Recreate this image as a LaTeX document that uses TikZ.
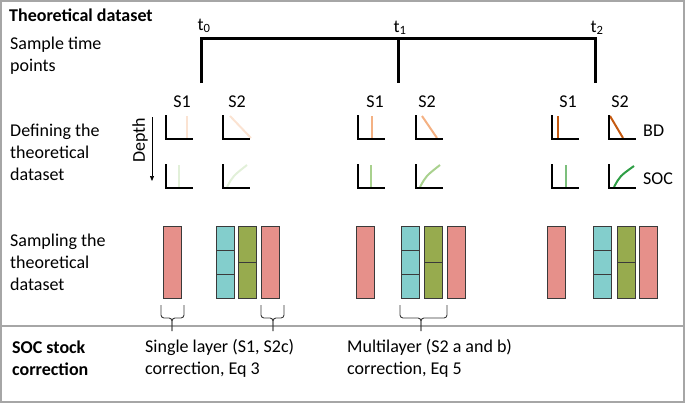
\documentclass[tikz,border=0pt]{standalone}
\usepackage{fontspec}
\setmainfont{Carlito}
\usetikzlibrary{arrows.meta}
\definecolor{framec}{HTML}{A6A6A6}
\definecolor{bdfaint}{HTML}{FBE3D2}
\definecolor{bdmid}{HTML}{F4B183}
\definecolor{bddark}{HTML}{C55A11}
\definecolor{socfaint}{HTML}{E2F0D9}
\definecolor{socmid}{HTML}{A9D18E}
\definecolor{socmidb}{HTML}{7CBF7C}
\definecolor{socdark}{HTML}{2E9E45}
\definecolor{corec}{HTML}{E6908A}
\definecolor{layerc}{HTML}{83CECC}
\definecolor{halfc}{HTML}{97AB4E}
\definecolor{edgec}{HTML}{3A3A3A}
\newcommand\soilbrace[3]{%
  \draw[bracel] (#1,305) -- (#1,318) -- (#3,318) -- (#3,331);
  \draw[bracel] (#2,305) -- (#2,318) -- (#3,318) -- (#3,331);}

\begin{document}
\begin{tikzpicture}[x=1pt, y=-1pt,
  txt/.style={font=\fontsize{18}{22}\selectfont, inner sep=0pt, align=left, anchor=west},
  hdr/.style={txt, font=\fontsize{18}{22}\selectfont\bfseries},
  axisl/.style={line width=2.6pt},
  curvel/.style={line width=2pt},
  core/.style={draw=edgec, line width=0.9pt},
  bracel/.style={draw=edgec, line width=0.9pt, rounded corners=3pt}]
  \useasboundingbox (0,0) rectangle (685,404);
  \draw[framec, line width=1.5pt] (1,1) rectangle (684,402);
  \draw[framec, line width=1.5pt] (1,326) -- (684,326);
  \node[hdr] (title) at (9,15) {Theoretical dataset};
  \node[txt] (sample) at (10,56) {Sample time\\points};
  \node[txt] (define) at (10,152) {Defining the\\theoretical\\dataset};
  \node[txt] (sampling) at (10,262) {Sampling the\\theoretical\\dataset};
  \node[hdr] (soc) at (12,358) {SOC stock\\correction};
  \node[txt] (single) at (145,358) {Single layer (S1, S2c)\\correction, Eq 3};
  \node[txt] (multi) at (347,358) {Multilayer (S2 a and b)\\correction, Eq 5};
  \coordinate (t0) at (201,39);
  \coordinate (t1) at (398,39);
  \coordinate (t2) at (595,39);
  \draw[line width=3pt] (t0) ++(0,44) -- (t0) -- (t2) -- ++(0,44);
  \draw[line width=3pt] (t1) -- ++(0,44);
  \node[txt, anchor=center] (lt0) at (204,26) {t\textsubscript{0}};
  \node[txt, anchor=center] (lt1) at (400,28) {t\textsubscript{1}};
  \node[txt, anchor=center] (lt2) at (597,28) {t\textsubscript{2}};
  \foreach \x/\s in {182/1,237/2,375/1,427/2,568/1,620/2}
    \node[txt, anchor=center] (s\x) at (\x,102) {S\s};
  \node[txt, anchor=center, rotate=90] (depth) at (140,140) {Depth};
  \coordinate (dtop) at (152,117);
  \coordinate (dbot) at (152,181);
  \draw[-{Triangle[length=5pt,width=4pt]}, line width=0.7pt] (dtop) -- (dbot);
  \draw[bdfaint, curvel] (187,116) -- (187,138);
  \draw[bdfaint, curvel] (230,116) -- (251,138);
  \draw[bdmid, curvel] (372,116) -- (372,138);
  \draw[bdmid, curvel] (422,116) -- (437,138);
  \draw[bddark, curvel] (558,116) -- (558,138);
  \draw[bddark, curvel] (610,116) -- (623,138);
  \draw[socfaint, curvel] (179,165) -- (179,187);
  \draw[socfaint, curvel] (227,187) .. controls (233,176) .. (247,165);
  \draw[socmid, curvel] (371,165) -- (371,187);
  \draw[socmid, curvel] (420,187) .. controls (426,176) .. (440,165);
  \draw[socmidb, curvel] (566,165) -- (566,187);
  \draw[socdark, curvel] (614,187) .. controls (620,176) .. (634,166);
  \foreach \x in {166,223,358,416,552,609}{
    \draw[axisl] (\x,115) -- (\x,139) -- (\x+27,139);
    \draw[axisl] (\x,164) -- (\x,188) -- (\x+27,188);
  }
  \node[txt] (bd) at (643,131) {BD};
  \node[txt] (socl) at (643,179) {SOC};
  \foreach \a in {163,356,547}
    \draw[core, fill=corec] (\a,226) rectangle +(18,72);
  \foreach \c/\g/\p in {216/238/261,401/424/447,593/617/639}{
    \draw[core, fill=layerc] (\c,226) rectangle +(18,72);
    \draw[core] (\c,250) -- +(18,0) (\c,274) -- +(18,0);
    \draw[core, fill=halfc] (\g,226) rectangle +(18,72);
    \draw[core] (\g,262) -- +(18,0);
    \draw[core, fill=corec] (\p,226) rectangle +(18,72);
  }
  \soilbrace{161}{184}{172}
  \soilbrace{261}{284}{273}
  \soilbrace{400}{447}{421}
\end{tikzpicture}
\end{document}
